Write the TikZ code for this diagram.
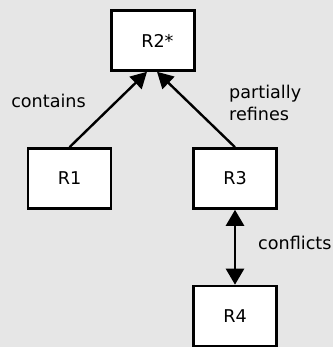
\documentclass[tikz,border=0pt]{standalone}
\usepackage{fontspec}
\setmainfont{DejaVu Sans}
\usepackage{xcolor}
\usetikzlibrary{calc, shapes, arrows.meta, positioning}
\definecolor{bggray}{RGB}{230,230,230}

\begin{document}
\begin{tikzpicture}[x=1pt,y=-1pt,
		reqfont/.style={font=\fontsize{17.6}{22}\selectfont},
		reqbox/.style={reqfont, draw, fill=white, line width=2.6pt, minimum width=83pt, minimum height=60pt, inner sep=0pt},
		relarrow/.style={line width=2.4pt, -{Triangle[length=16pt,width=17pt]}},
		bothrel/.style={line width=2.6pt, {Triangle[length=16pt,width=18pt]}-{Triangle[length=16pt,width=18pt]}},
		rellabel/.style={reqfont, inner sep=0pt, align=left}]
				%Background
				\fill [bggray] (0,0) rectangle (333,347);
				\useasboundingbox (0,0) rectangle (333,347);
				%The boxes
				\coordinate (c2) at (153,40.5);
				\coordinate (c1) at (69.5,178.5);
				\coordinate (c3) at (235,178.5);
				\coordinate (c4) at (235,316);
				\node [reqbox] (r2) at (c2) {R2\rlap{*}};
				\node [reqbox] (r1) at (c1) {R1};
				\node [reqbox] (r3) at (c3) {R3};
				\node [reqbox] (r4) at (c4) {R4};
				%Arrows into R2*
				\coordinate (in1) at ($(r2.south)+(-6,0)$);
				\coordinate (in3) at ($(r2.south)+(4,0)$);
				\draw [relarrow] (r1.north) -- (in1);
				\draw [relarrow] (r3.north) -- (in3);
				\draw [bothrel] (r3.south) -- (r4.north);
				%Labels of the relations
				\node [rellabel] (contains) at (48.5,101) {contains};
				\node [rellabel, anchor=west] (refines) at (229,103) {partially\\refines};
				\node [rellabel, anchor=west] (conflicts) at (258,243) {conflicts};
				\end{tikzpicture}
\end{document}
